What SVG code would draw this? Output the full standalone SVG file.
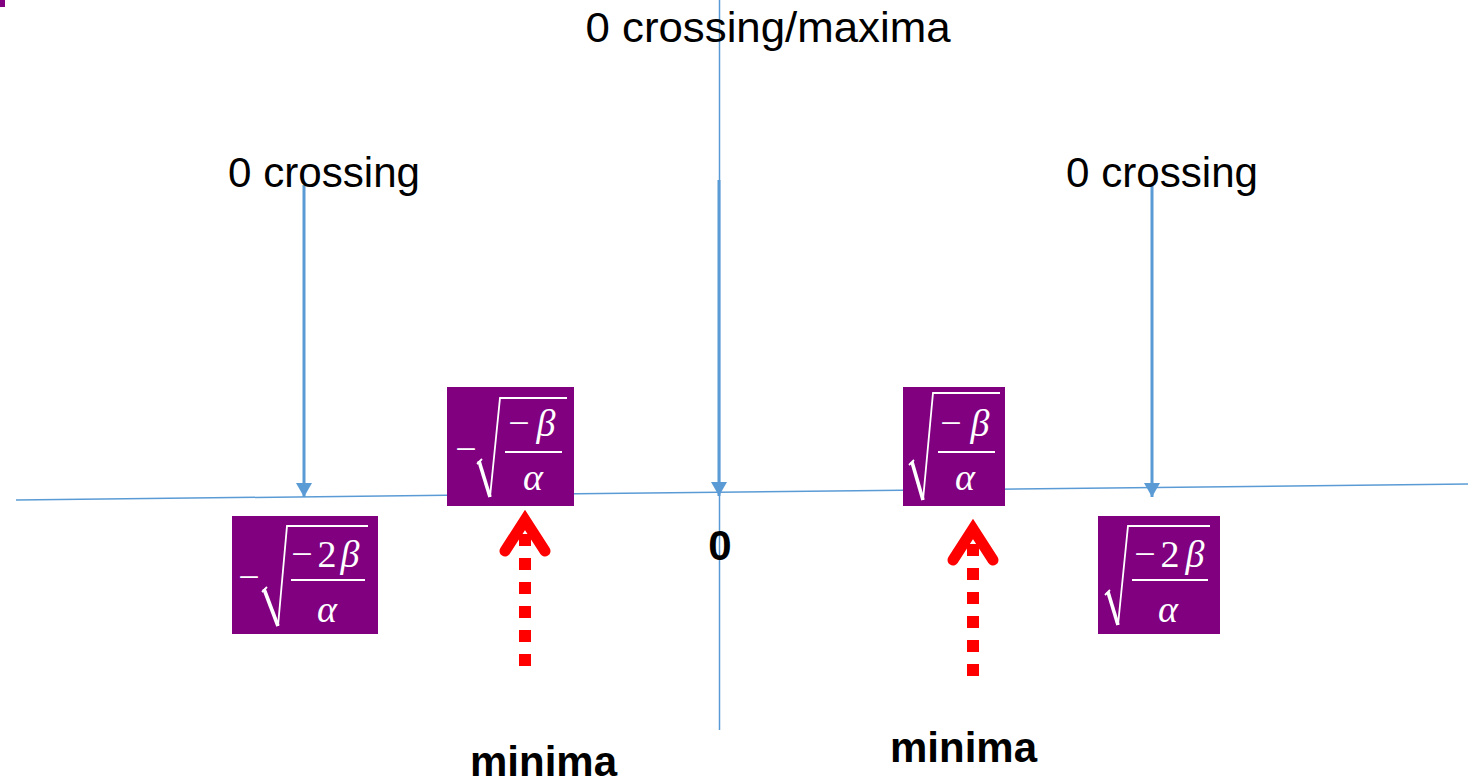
<svg xmlns="http://www.w3.org/2000/svg" width="1468" height="784" viewBox="0 0 1468 784">
  <style>
    .axis { stroke: #5B9BD5; stroke-width: 1.5; fill: none; }
    .ptr { stroke: #5B9BD5; stroke-width: 3; fill: none; }
    .box { fill: #800080; }
    .m { font-family: "Liberation Serif", "Times New Roman", serif; font-size: 38px; fill: #ffffff; }
    .mi { font-style: italic; }
    .rad { stroke: #ffffff; stroke-width: 1.8; fill: none; stroke-linejoin: miter; }
    .radk { stroke: #ffffff; stroke-width: 3.6; fill: none; }
    .bar { stroke: #ffffff; stroke-width: 1.8; }
    .lbl { font-family: "Liberation Sans", Arial, sans-serif; font-size: 42px; fill: #000000; }
    .bold { font-weight: bold; }
    .shaft { stroke: #ff0000; stroke-width: 12; stroke-dasharray: 12 12; fill: none; }
    .chev { stroke: #ff0000; stroke-width: 11; fill: none; stroke-linecap: round; stroke-linejoin: miter; }
  </style>
  <defs>
    <marker id="tip" markerUnits="userSpaceOnUse" markerWidth="18" markerHeight="16" refX="14" refY="8" orient="auto">
      <path d="M0,0 L14,8 L0,16 Z" fill="#5B9BD5"/>
    </marker>
  </defs>

  <rect x="0" y="0" width="5" height="7" fill="#800080"/>

  <!-- axes and pointers -->
  <g id="connectors">
    <line class="axis" x1="16" y1="500" x2="1468" y2="484"/>
    <line class="axis" x1="719.5" y1="0" x2="719.5" y2="730"/>
    <line class="ptr" x1="304" y1="185" x2="304" y2="497" marker-end="url(#tip)"/>
    <line class="ptr" x1="719" y1="180" x2="719" y2="496" marker-end="url(#tip)"/>
    <line class="ptr" x1="1152" y1="185" x2="1152" y2="497" marker-end="url(#tip)"/>
  </g>

  <!-- -sqrt(-2b/a) -->
  <g id="neg-root-2b">
    <rect class="box" x="232" y="516" width="146" height="118"/>
    <text class="m" x="249" y="590" text-anchor="middle">−</text>
    <path class="radk" d="M264,589 L278,626"/>
    <path class="rad" d="M262,592 L267,587 M278,626 L287,526 L368,526"/>
    <text class="m" x="302" y="567" text-anchor="middle">−</text>
    <text class="m" x="327" y="567" text-anchor="middle">2</text>
    <text class="m mi" x="350" y="567" text-anchor="middle">β</text>
    <line class="bar" x1="291" y1="580" x2="365" y2="580"/>
    <text class="m mi" x="327" y="622" text-anchor="middle">α</text>
  </g>

  <!-- -sqrt(-b/a) -->
  <g id="neg-root-b">
    <rect class="box" x="447" y="387" width="127" height="119"/>
    <text class="m" x="466" y="462" text-anchor="middle">−</text>
    <path class="radk" d="M479,461 L490,497"/>
    <path class="rad" d="M477,464 L482,459 M490,497 L500,398 L567,398"/>
    <text class="m" x="519" y="436" text-anchor="middle">−</text>
    <text class="m mi" x="546" y="436" text-anchor="middle">β</text>
    <line class="bar" x1="505" y1="452" x2="562" y2="452"/>
    <text class="m mi" x="533" y="490" text-anchor="middle">α</text>
  </g>

  <!-- sqrt(-b/a) -->
  <g id="pos-root-b">
    <rect class="box" x="903" y="387" width="102" height="119"/>
    <path class="radk" d="M912,462 L923,500"/>
    <path class="rad" d="M909,465 L914,460 M923,500 L933,393 L1000,393"/>
    <text class="m" x="951" y="436" text-anchor="middle">−</text>
    <text class="m mi" x="980" y="436" text-anchor="middle">β</text>
    <line class="bar" x1="938" y1="452" x2="995" y2="452"/>
    <text class="m mi" x="965" y="490" text-anchor="middle">α</text>
  </g>

  <!-- sqrt(-2b/a) -->
  <g id="pos-root-2b">
    <rect class="box" x="1098" y="516" width="122" height="118"/>
    <path class="radk" d="M1108,592 L1118,625"/>
    <path class="rad" d="M1105,595 L1110,590 M1118,625 L1128,526 L1210,526"/>
    <text class="m" x="1145" y="567" text-anchor="middle">−</text>
    <text class="m" x="1170" y="567" text-anchor="middle">2</text>
    <text class="m mi" x="1195" y="567" text-anchor="middle">β</text>
    <line class="bar" x1="1132" y1="580" x2="1208" y2="580"/>
    <text class="m mi" x="1168" y="622" text-anchor="middle">α</text>
  </g>

  <!-- dotted minima arrows -->
  <g id="minima-left-arrow">
    <line class="shaft" x1="525" y1="666" x2="525" y2="530"/>
    <polyline class="chev" points="505,551 525,520 545,551"/>
  </g>
  <g id="minima-right-arrow">
    <line class="shaft" x1="973" y1="676" x2="973" y2="538"/>
    <polyline class="chev" points="953,560 973,529 993,560"/>
  </g>

  <!-- labels -->
  <g id="labels">
    <text class="lbl" x="768" y="42" text-anchor="middle" textLength="365" lengthAdjust="spacingAndGlyphs">0 crossing/maxima</text>
    <text class="lbl" x="228" y="187" textLength="192" lengthAdjust="spacingAndGlyphs">0 crossing</text>
    <text class="lbl" x="1066" y="187" textLength="192" lengthAdjust="spacingAndGlyphs">0 crossing</text>
    <text class="lbl bold" x="720" y="560" text-anchor="middle">0</text>
    <text class="lbl bold" x="470" y="776" textLength="147" lengthAdjust="spacingAndGlyphs">minima</text>
    <text class="lbl bold" x="890" y="762" textLength="147" lengthAdjust="spacingAndGlyphs">minima</text>
  </g>
</svg>
